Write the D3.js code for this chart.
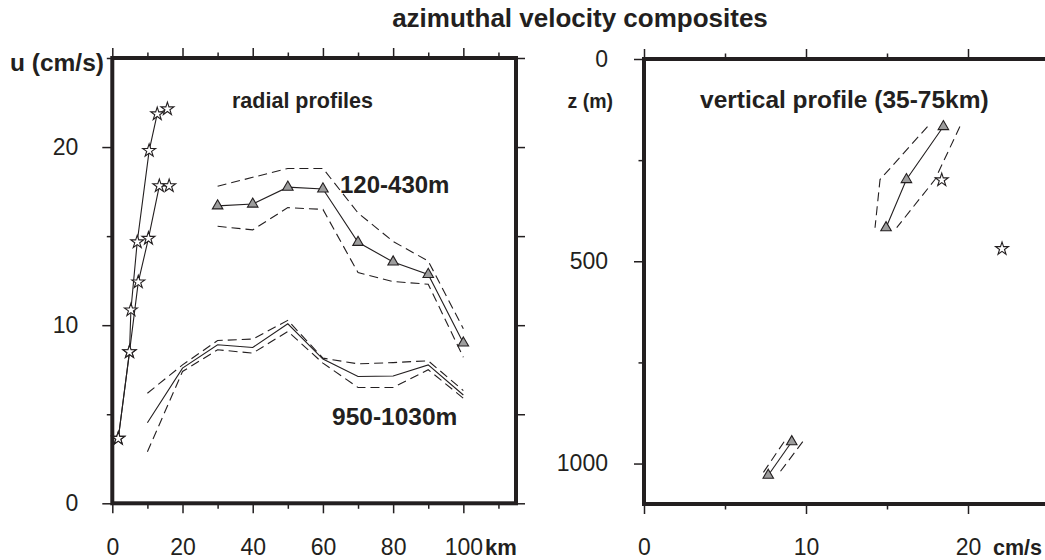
<!DOCTYPE html>
<html><head><meta charset="utf-8">
<script src="https://cdn.jsdelivr.net/npm/d3@7"></script>
<style>
body{margin:0;background:#fff}
text{font-family:"Liberation Sans",Arial,Helvetica,sans-serif;fill:#231f20}
</style>
</head><body>
<svg id="c" width="1045" height="560"></svg>
<script>
// ---------- data ----------
// radial profiles (left panel): stars (near-core)
const starKmA = [1.7, 4.9, 5.3, 7.1, 10.5, 12.8, 15.7];
const starUA  = [3.64, 8.5, 10.85, 14.67, 19.8, 21.86, 22.14];
const starKmB = [1.7, 4.9, 7.4, 10.3, 13.4, 16.2];
const starUB  = [3.64, 8.5, 12.42, 14.87, 17.82, 17.82];
// 120-430m
const shallowKm    = [30, 40, 50, 60, 70, 80, 90, 100];
const shallowU     = [16.7, 16.8, 17.75, 17.65, 14.65, 13.55, 12.85, 9.0];
const shallowUpper = [17.8, 18.3, 18.8, 18.8, 16.3, 14.7, 13.6, 9.8];
const shallowLower = [15.55, 15.35, 16.6, 16.5, 12.95, 12.45, 12.3, 8.2];
// 950-1030m
const deepKm    = [10, 20, 30, 40, 50, 60, 70, 80, 90, 100];
const deepU     = [4.52, 7.59, 8.9, 8.75, 10.08, 8.1, 7.12, 7.15, 7.77, 6.08];
const deepUpper = [6.18, 7.77, 9.14, 9.22, 10.27, 8.15, 7.83, 7.9, 8.0, 6.33];
const deepLower = [2.89, 7.4, 8.62, 8.43, 9.65, 7.87, 6.5, 6.5, 7.5, 5.9];
// vertical profile (35-75km), right panel
const vUpperZ  = [167, 298, 417];
const vUpperU  = [18.48, 16.2, 14.94];
const vUpperL  = [17.5, 14.57, 14.26];
const vUpperR  = [19.5, 17.96, 15.6];
const vLowerZ  = [946, 1029];
const vLowerU  = [9.12, 7.67];
const vLowerL  = [8.65, 7.25];
const vLowerR  = [9.8, 8.24];
const vStarU   = [18.38, 22.1];
const vStarZ   = [299, 469];
// ticks
const leftYMajor = [0, 10, 20], leftYMinor = [5, 15, 25];
const leftXMajor = [0, 20, 40, 60, 80, 100], leftXMinor = [10, 30, 50, 70, 90, 110];
const rightYMajor = [0, 500, 1000], rightYMinor = [250, 750];
const rightXMajor = [0, 10, 20], rightXMinor = [5, 15, 25];

// ---------- drawing ----------
const ink = "#231f20";
const svg = d3.select("#c");
const xL = d3.scaleLinear().domain([0, 115]).range([112.3, 516]);
const yL = d3.scaleLinear().domain([0, 25]).range([503.3, 58]);
const xR = d3.scaleLinear().domain([0, 25]).range([644, 1049]);
const yR = d3.scaleLinear().domain([0, 1100]).range([59, 504]);

function axis(gen, tx, ty, values, size, pad, labels) {
  const g = svg.append("g").attr("transform", `translate(${tx},${ty})`)
    .call(gen.tickValues(values).tickSize(size).tickSizeOuter(0).tickPadding(pad)
      .tickFormat(labels ? d3.format("d") : () => ""));
  g.select(".domain").remove();
  g.selectAll(".tick line").attr("stroke", ink).attr("stroke-width", 1.5);
  g.selectAll(".tick text").style("font-size", "23px").attr("fill", ink);
  return g;
}
// left panel axes
axis(d3.axisLeft(yL), 112.3, 0, leftYMajor, 10, 24, true);
axis(d3.axisLeft(yL), 112.3, 0, leftYMinor, 5.5, 0, false);
axis(d3.axisRight(yL), 516, 0, leftYMajor.concat(leftYMinor), 9, 0, false);
axis(d3.axisTop(xL), 0, 58, leftXMajor, 10, 0, false);
axis(d3.axisTop(xL), 0, 58, leftXMinor, 5.5, 0, false);
axis(d3.axisBottom(xL), 0, 503.3, leftXMajor, 10, 25, true);
axis(d3.axisBottom(xL), 0, 503.3, leftXMinor, 5.5, 0, false);
// right panel axes
axis(d3.axisLeft(yR), 644, 0, rightYMajor, 10, 26, true);
axis(d3.axisLeft(yR), 644, 0, rightYMinor, 5.5, 0, false);
axis(d3.axisTop(xR), 0, 59, rightXMajor, 10, 0, false);
axis(d3.axisTop(xR), 0, 59, rightXMinor, 5.5, 0, false);
axis(d3.axisBottom(xR), 0, 504, rightXMajor, 10, 24.3, true);
axis(d3.axisBottom(xR), 0, 504, rightXMinor.slice(0, 2), 5.5, 0, false);

const lineL = d3.line().x(d => xL(d[0])).y(d => yL(d[1]));
const lineR = d3.line().x(d => xR(d[0])).y(d => yR(d[1]));
function path(gen, pts, dashed) {
  svg.append("path").attr("d", gen(pts)).attr("fill", "none").attr("stroke", ink)
    .attr("stroke-width", 1.1)
    .attr("stroke-dasharray", dashed ? "9,5" : null);
}
const tri = d3.symbol().type(d3.symbolTriangle).size(48);
const star = d3.symbol().type(d3.symbolStar).size(52);
function marks(sym, pts, sx, sy, fill) {
  svg.append("g").selectAll("path").data(pts).join("path")
    .attr("d", sym).attr("transform", d => `translate(${sx(d[0])},${sy(d[1])})`)
    .attr("fill", fill).attr("stroke", ink).attr("stroke-width", 1.1);
}
// left panel: dashed envelopes, solid lines, markers
path(lineL, d3.zip(shallowKm, shallowUpper), true);
path(lineL, d3.zip(shallowKm, shallowLower), true);
path(lineL, d3.zip(deepKm, deepUpper), true);
path(lineL, d3.zip(deepKm, deepLower), true);
path(lineL, d3.zip(shallowKm, shallowU), false);
path(lineL, d3.zip(deepKm, deepU), false);
path(lineL, d3.zip(starKmA, starUA), false);
path(lineL, d3.zip(starKmB, starUB), false);
marks(tri, d3.zip(shallowKm, shallowU), xL, yL, "#9d9d9d");
marks(star, d3.zip(starKmA, starUA), xL, yL, "#fff");
marks(star, d3.zip(starKmB, starUB), xL, yL, "#fff");
// right panel
path(lineR, d3.zip(vUpperL, vUpperZ), true);
path(lineR, d3.zip(vUpperR, vUpperZ), true);
path(lineR, d3.zip(vLowerL, vLowerZ), true);
path(lineR, d3.zip(vLowerR, vLowerZ), true);
path(lineR, d3.zip(vUpperU, vUpperZ), false);
path(lineR, d3.zip(vLowerU, vLowerZ), false);
marks(tri, d3.zip(vUpperU, vUpperZ), xR, yR, "#9d9d9d");
marks(tri, d3.zip(vLowerU, vLowerZ), xR, yR, "#9d9d9d");
marks(star, d3.zip(vStarU, vStarZ), xR, yR, "#fff");

// frames
svg.append("rect").attr("x", xL(0)).attr("y", yL(25)).attr("width", xL(115) - xL(0))
  .attr("height", yL(0) - yL(25)).attr("fill", "none").attr("stroke", ink).attr("stroke-width", 4);
svg.append("rect").attr("x", xR(0)).attr("y", yR(0)).attr("width", xR(25) - xR(0))
  .attr("height", yR(1100) - yR(0)).attr("fill", "none").attr("stroke", ink).attr("stroke-width", 4);

// texts
function label(t, x, y, size, anchor) {
  svg.append("text").text(t).attr("x", x).attr("y", y).attr("text-anchor", anchor || "start")
    .style("font-size", size + "px").style("font-weight", "bold");
}
label("azimuthal velocity composites", 580, 27, 26, "middle");
label("u (cm/s)", 10, 71, 24.5);
label("radial profiles", 232, 108, 21.5);
label("120-430m", 340, 192.5, 24);
label("950-1030m", 332, 425, 24.5);
label("km", 485, 555, 22);
label("z (m)", 613, 108, 19.5, "end");
label("vertical profile (35-75km)", 700, 108, 24.5);
label("cm/s", 993, 555, 21.5);
</script>
</body></html>
